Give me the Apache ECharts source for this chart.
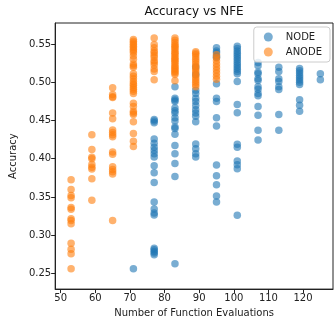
<!DOCTYPE html>
<html><head><meta charset="utf-8">
<script src="https://cdn.jsdelivr.net/npm/echarts@6/dist/echarts.min.js"></script>
<style>html,body{margin:0;padding:0;background:#fff}#c{width:335px;height:323px}</style>
</head><body><div id="c"></div>
<script>
const nodeNFE = [71, 77, 83, 89, 95, 101, 107, 113, 119, 125];
const nodeAcc = [
  [0.256],
  [0.4513, 0.4492, 0.447, 0.4257, 0.4202, 0.4151, 0.4109, 0.4066, 0.4023, 0.3908, 0.3818, 0.369, 0.3434, 0.3341, 0.329, 0.3265, 0.283, 0.2808, 0.2786, 0.2766, 0.2744],
  [0.494, 0.479, 0.4769, 0.4748, 0.4662, 0.4628, 0.4598, 0.4535, 0.4492, 0.4416, 0.4394, 0.4321, 0.4173, 0.4066, 0.3937, 0.3767, 0.2625],
  [0.52, 0.51, 0.4897, 0.4854, 0.479, 0.4748, 0.4697, 0.4641, 0.4598, 0.4556, 0.4483, 0.4193, 0.4129, 0.4066, 0.4023],
  [0.5451, 0.5408, 0.5387, 0.5344, 0.5323, 0.4982, 0.479, 0.4748, 0.4535, 0.4428, 0.3917, 0.3776, 0.3661, 0.3512, 0.3435],
  [0.547, 0.544, 0.541, 0.538, 0.535, 0.532, 0.529, 0.526, 0.523, 0.520, 0.517, 0.514, 0.511, 0.501, 0.471, 0.460, 0.419, 0.415, 0.397, 0.392, 0.387, 0.326],
  [0.526, 0.5216, 0.5132, 0.511, 0.5046, 0.5024, 0.494, 0.491, 0.4854, 0.4825, 0.4684, 0.457, 0.4372, 0.4244],
  [0.5195, 0.514, 0.5046, 0.5011, 0.494, 0.4905, 0.4577, 0.4372],
  [0.518, 0.515, 0.512, 0.509, 0.506, 0.503, 0.500, 0.497, 0.477, 0.470, 0.462],
  [0.511, 0.5033]
];
const anodeNFE = [53, 59, 65, 71, 77, 83, 89, 95];
const anodeAcc = [
  [0.3725, 0.3597, 0.352, 0.349, 0.3362, 0.334, 0.3214, 0.3192, 0.315, 0.2894, 0.2817, 0.2757, 0.256],
  [0.4313, 0.4122, 0.402, 0.4, 0.3925, 0.389, 0.3866, 0.3738, 0.3457],
  [0.4927, 0.4841, 0.4812, 0.48, 0.4598, 0.4522, 0.4377, 0.4343, 0.4313, 0.4288, 0.4087, 0.4058, 0.3895, 0.386, 0.383, 0.38, 0.3192],
  [0.5558, 0.5536, 0.5515, 0.5494, 0.5472, 0.5451, 0.543, 0.5408, 0.5387, 0.5344, 0.5302, 0.5238, 0.5216, 0.5195, 0.511, 0.508, 0.5046, 0.5011, 0.4982, 0.496, 0.4931, 0.491, 0.4884, 0.4854, 0.4726, 0.4684, 0.462, 0.4598, 0.4577, 0.4483, 0.433, 0.4228, 0.416],
  [0.558, 0.5494, 0.5451, 0.5408, 0.5387, 0.5353, 0.5323, 0.528, 0.526, 0.5225, 0.5174, 0.514, 0.5033],
  [0.558, 0.555, 0.552, 0.549, 0.547, 0.545, 0.543, 0.540, 0.538, 0.536, 0.533, 0.531, 0.529, 0.527, 0.525, 0.522, 0.520, 0.518, 0.516, 0.514, 0.512, 0.510, 0.502],
  [0.540, 0.538, 0.536, 0.533, 0.530, 0.527, 0.524, 0.521, 0.518, 0.515, 0.512, 0.509, 0.506, 0.503, 0.500, 0.497, 0.494],
  [0.536, 0.532, 0.528, 0.524, 0.520, 0.516, 0.512, 0.508, 0.504]
];
const xTicks = [50, 60, 70, 80, 90, 100, 110, 120];
const yTicks = [0.25, 0.30, 0.35, 0.40, 0.45, 0.50, 0.55];

function flatten(xs, ys) {
  const out = [];
  xs.forEach((x, i) => ys[i].forEach(v => out.push([x, v])));
  return out;
}

const font = 'DejaVu Sans';
const chart = echarts.init(document.getElementById('c'), null, {renderer: 'canvas'});
chart.setOption({
  animation: false,
  textStyle: {fontFamily: font},
  grid: {left: 53, right: 2, top: 23, bottom: 28, show: true, borderColor: '#222', borderWidth: 1, backgroundColor: 'transparent'},
  graphic: [{type: 'text', x: 194, y: 6, style: {text: 'Accuracy vs NFE', font: '12px "DejaVu Sans"', fill: '#111', textAlign: 'center', textVerticalAlign: 'top'}}],
  xAxis: {
    type: 'value', min: 48.4, max: 128.65,
    name: 'Number of Function Evaluations', nameLocation: 'middle', nameGap: 17,
    nameTextStyle: {fontSize: 10, color: '#222', fontFamily: font},
    splitLine: {show: false},
    axisLine: {show: true, lineStyle: {color: '#222'}},
    axisTick: {show: true, length: 4, lineStyle: {color: '#222'}, customValues: xTicks},
    axisLabel: {fontSize: 10, color: '#222', margin: 4, customValues: xTicks}
  },
  yAxis: {
    type: 'value', min: 0.2295, max: 0.5775,
    name: 'Accuracy', nameLocation: 'middle', nameGap: 37,
    nameTextStyle: {fontSize: 10, color: '#222', fontFamily: font},
    splitLine: {show: false},
    axisLine: {show: true, lineStyle: {color: '#222'}},
    axisTick: {show: true, length: 4, lineStyle: {color: '#222'}, customValues: yTicks},
    axisLabel: {fontSize: 10, color: '#222', margin: 4, customValues: yTicks, formatter: v => v.toFixed(2)}
  },
  legend: {
    orient: 'vertical', right: 5, top: 27,
    itemWidth: 9, itemHeight: 9, itemGap: 5,
    padding: [5, 8, 5, 10],
    borderColor: '#ccc', borderWidth: 1, borderRadius: 3,
    backgroundColor: 'rgba(255,255,255,0.8)',
    textStyle: {fontSize: 10, color: '#222', fontFamily: font, padding: [0, 0, 0, 8]},
    data: [{name: 'NODE', icon: 'circle'}, {name: 'ANODE', icon: 'circle'}]
  },
  series: [
    {name: 'NODE', type: 'scatter', symbolSize: 7.5, data: flatten(nodeNFE, nodeAcc),
     itemStyle: {color: '#1f77b4', opacity: 0.6}},
    {name: 'ANODE', type: 'scatter', symbolSize: 7.5, data: flatten(anodeNFE, anodeAcc),
     itemStyle: {color: '#ff7f0e', opacity: 0.6}}
  ]
});
</script></body></html>
